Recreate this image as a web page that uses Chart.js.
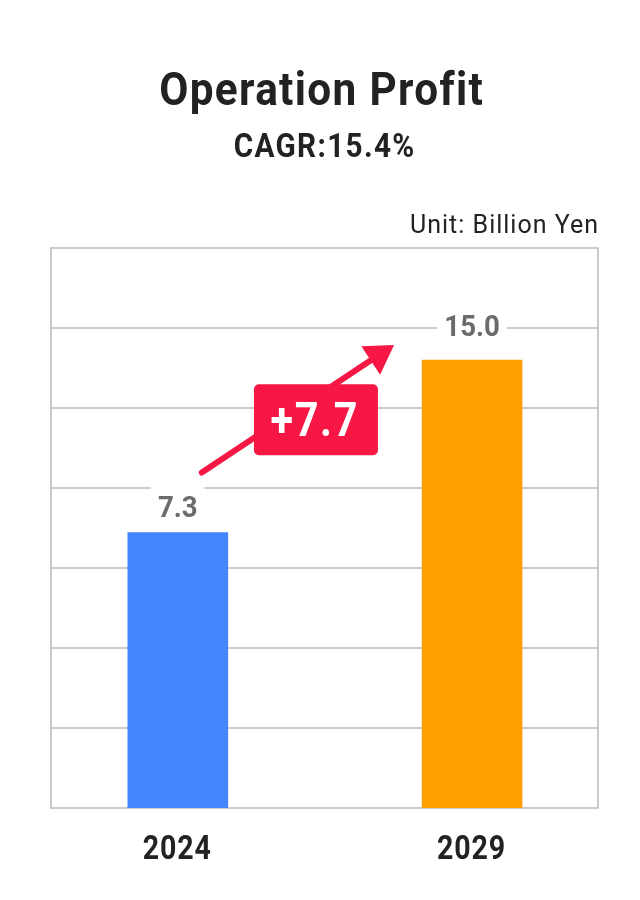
<!DOCTYPE html>
<html>
<head>
<meta charset="utf-8">
<script src="https://cdn.jsdelivr.net/npm/chart.js@4.4.1/dist/chart.umd.min.js"></script>
<style>
  html, body { margin: 0; padding: 0; background: #fff; }
</style>
</head>
<body>
<canvas id="profitChart" width="640" height="900"></canvas>
<script>
// chart data
const years = ['2024', '2029'];
const profit = [7.3, 15.0];
const barColors = ['#4285fc', '#ffa000'];
const growthLabel = '+7.7';
const titleText = 'Operation Profit';
const subtitleText = 'CAGR:15.4%';
const unitText = 'Unit: Billion Yen';

const FONT = 'Roboto, "Noto Sans", sans-serif';

// small helper: text with letter spacing and optional horizontal squeeze
function drawText(ctx, str, x, y, opts) {
    ctx.save();
    ctx.font = opts.font;
    ctx.fillStyle = opts.color;
    ctx.textBaseline = 'alphabetic';
    ctx.textAlign = 'left';
    ctx.letterSpacing = (opts.ls || 0) + 'px';
    const w = ctx.measureText(str).width - (opts.ls || 0);
    const sx = opts.sx || 1;
    ctx.translate(x, y);
    ctx.scale(sx, 1);
    let left = -w / 2;
    if (opts.align === 'right') left = -w;
    if (opts.align === 'left') left = 0;
    ctx.fillText(str, left, 0);
    ctx.restore();
    return w * sx;
}

const headerPlugin = {
    id: 'header',
    afterDraw(chart) {
        const { ctx, chartArea } = chart;
        const cx = chart.width / 2 + 1;
        drawText(ctx, titleText, cx, 105, { font: `bold 47px ${FONT}`, color: '#222', ls: 1.5, sx: 0.9 });
        drawText(ctx, subtitleText, cx + 3, 157, { font: `bold 33px ${FONT}`, color: '#222', ls: 1.5, sx: 0.9 });
        drawText(ctx, unitText, chartArea.right, chartArea.top - 15, { font: `25px ${FONT}`, color: '#222', ls: 1, align: 'right' });
    }
};

const yearLabelsPlugin = {
    id: 'yearLabels',
    afterDraw(chart) {
        const { ctx, chartArea } = chart;
        const meta = chart.getDatasetMeta(0);
        meta.data.forEach((bar, i) => {
            drawText(ctx, years[i], bar.x - 1, chartArea.bottom + 51, { font: `bold 34px ${FONT}`, color: '#222', ls: 1, sx: 0.84 });
        });
    }
};

const valueLabelsPlugin = {
    id: 'valueLabels',
    afterDatasetsDraw(chart, args, opts) {
        const { ctx } = chart;
        const meta = chart.getDatasetMeta(0);
        meta.data.forEach((bar, i) => {
            const txt = profit[i].toFixed(1);
            const baseY = bar.y - opts.offsets[i];
            ctx.save();
            ctx.font = `bold 30px ${FONT}`;
            const w = ctx.measureText(txt).width * 0.92;
            ctx.fillStyle = '#fff';
            ctx.fillRect(bar.x - w / 2 - 7, baseY - 33, w + 14, 40);
            ctx.restore();
            drawText(ctx, txt, bar.x, baseY, { font: `bold 30px ${FONT}`, color: '#6b6b6b', sx: 0.92 });
        });
    }
};

const growthArrowPlugin = {
    id: 'growthArrow',
    afterDatasetsDraw(chart) {
        const { ctx } = chart;
        const meta = chart.getDatasetMeta(0);
        const a = meta.data[0], b = meta.data[1];
        const x0 = a.x + 24, y0 = a.y - 60;
        const x1 = b.x - 78, y1 = b.y - 15;
        const ang = Math.atan2(y1 - y0, x1 - x0);
        const headLen = 28, headHalf = 17;
        const bx = x1 - headLen * Math.cos(ang), by = y1 - headLen * Math.sin(ang);
        const red = '#f61744';

        ctx.save();
        ctx.strokeStyle = red;
        ctx.fillStyle = red;
        ctx.lineWidth = 6;
        ctx.lineCap = 'round';
        ctx.beginPath();
        ctx.moveTo(x0, y0);
        ctx.lineTo(bx + 2 * Math.cos(ang), by + 2 * Math.sin(ang));
        ctx.stroke();
        ctx.beginPath();
        ctx.moveTo(x1, y1);
        ctx.lineTo(bx + headHalf * Math.sin(ang), by - headHalf * Math.cos(ang));
        ctx.lineTo(bx - headHalf * Math.sin(ang), by + headHalf * Math.cos(ang));
        ctx.closePath();
        ctx.fill();

        // label box on the arrow
        const mx = (x0 + x1) / 2 + 18, my = (y0 + y1) / 2 + 11;
        const bw = 124, bh = 71;
        ctx.beginPath();
        ctx.roundRect(mx - bw / 2, my - bh / 2, bw, bh, 5);
        ctx.fill();
        ctx.restore();
        drawText(ctx, growthLabel, mx - 2, my + 16, { font: `bold 48px ${FONT}`, color: '#fff', ls: 2, sx: 0.86 });
    }
};

const ctx = document.getElementById('profitChart').getContext('2d');
const profitChart = new Chart(ctx, {
    type: 'bar',
    data: {
        datasets: [{
            data: profit.map((v, i) => ({ x: i, y: v })),
            backgroundColor: barColors,
            barThickness: 100,
            base: -5
        }]
    },
    options: {
        responsive: false,
        animation: false,
        layout: { padding: { left: 51, top: 248, right: 42, bottom: 92 } },
        plugins: {
            legend: { display: false },
            tooltip: { enabled: false },
            valueLabels: { offsets: [15, 24] }
        },
        scales: {
            x: {
                type: 'linear', min: -0.431, max: 1.428, display: false,
                offset: false, grid: { offset: false }
            },
            y: {
                min: -5, max: 20,
                position: 'left',
                grid: { display: false, drawTicks: false },
                ticks: { display: false },
                border: { display: true, color: '#cccccc', width: 2 }
            },
            yGrid: {
                min: 0, max: 7,
                position: 'right',
                grid: { color: '#cccccc', lineWidth: 2, drawTicks: false },
                ticks: { display: false, stepSize: 1 },
                border: { display: true, color: '#cccccc', width: 2 }
            }
        }
    },
    plugins: [headerPlugin, yearLabelsPlugin, valueLabelsPlugin, growthArrowPlugin]
});
</script>
</body>
</html>
